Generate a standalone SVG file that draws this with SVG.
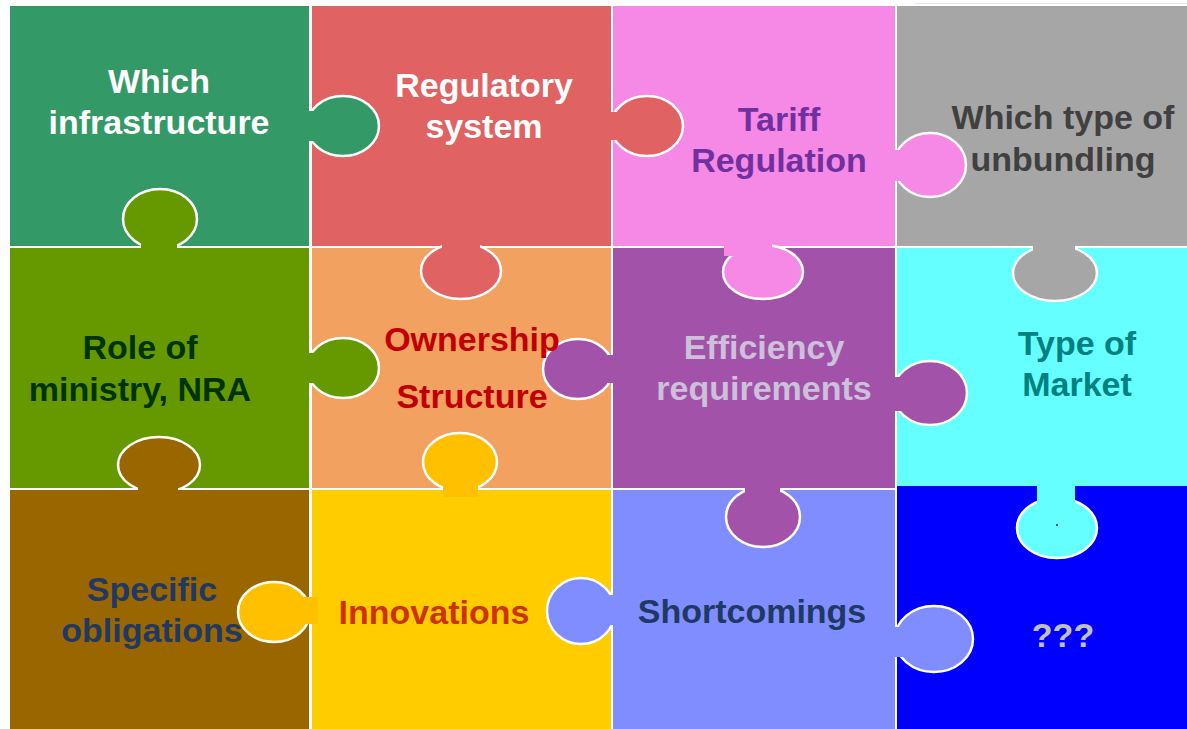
<svg xmlns="http://www.w3.org/2000/svg" width="1187" height="729" viewBox="0 0 1187 729">
<style>
.lbl{font-family:"Liberation Sans",Arial,sans-serif;font-weight:bold;font-size:34px;text-anchor:middle}
.tab ellipse{stroke:#fff;stroke-width:2.5}
.tab rect{stroke:none}
.c-infra{fill:#339966}.c-reg{fill:#E06262}.c-tariff{fill:#F589E5}.c-unb{fill:#A6A6A6}
.c-role{fill:#669900}.c-own{fill:#F2A160}.c-eff{fill:#A352A9}.c-mkt{fill:#66FFFF}
.c-spec{fill:#996600}.c-inn{fill:#FFCC00}.c-amber{fill:#FFC000}.c-short{fill:#808DFF}.c-unk{fill:#0000FF}
</style>
<rect x="0" y="0" width="1187" height="729" fill="#fff"/>
<line x1="915" y1="3.5" x2="1187" y2="3.5" stroke="#e4e4e4" stroke-width="1"/>

<g id="node-innovations">
  <rect class="c-inn" x="312" y="490" width="299" height="239"/>
  <g class="tab c-short"><ellipse cx="581" cy="611" rx="34" ry="33"/><rect x="604" y="595" width="14" height="30"/></g>
  <text class="lbl" x="434" y="624" fill="#CC3300">Innovations</text>
</g>
<g id="node-shortcomings">
  <rect class="c-short" x="613" y="490" width="282" height="239"/>
  <g class="tab c-eff"><ellipse cx="763" cy="517" rx="37" ry="30"/><rect x="745" y="482" width="35" height="18"/></g>
  <text class="lbl" x="752" y="623" fill="#1F3864">Shortcomings</text>
</g>
<g id="node-unknown">
  <rect class="c-unk" x="897" y="486" width="290" height="243"/>
  <g class="tab c-mkt"><ellipse cx="1057" cy="528" rx="40" ry="30"/><rect x="1037" y="480" width="38" height="25"/></g>
  <circle cx="1057" cy="525" r="1" fill="#0000FF"/>
  <g class="tab c-short"><ellipse cx="934" cy="639" rx="39" ry="33"/><rect x="889" y="627" width="16" height="30"/></g>
  <text class="lbl" x="1063" y="647" fill="#C0C0C0">???</text>
</g>
<g id="node-which-infrastructure">
  <rect class="c-infra" x="10" y="6" width="299" height="240"/>
  <g class="tab c-role"><ellipse cx="160" cy="219" rx="37" ry="30"/><rect x="141" y="234" width="36" height="18"/></g>
  <text class="lbl" x="159" y="93" fill="#fff">Which</text>
  <text class="lbl" x="159" y="134" fill="#fff">infrastructure</text>
</g>
<g id="node-regulatory-system">
  <rect class="c-reg" x="312" y="6" width="299" height="240"/>
  <g class="tab c-infra"><ellipse cx="343" cy="126" rx="36" ry="30"/><rect x="303" y="111" width="15" height="30"/></g>
  <text class="lbl" x="484" y="97" fill="#fff">Regulatory</text>
  <text class="lbl" x="484" y="138" fill="#fff">system</text>
</g>
<g id="node-tariff-regulation">
  <rect class="c-tariff" x="613" y="6" width="282" height="240"/>
  <g class="tab c-reg"><ellipse cx="647" cy="126" rx="36" ry="30"/><rect x="605" y="112" width="15" height="28"/></g>
  <text class="lbl" x="779" y="131" fill="#7030A0">Tariff</text>
  <text class="lbl" x="779" y="172" fill="#7030A0">Regulation</text>
</g>
<g id="node-unbundling">
  <rect class="c-unb" x="897" y="6" width="290" height="240"/>
  <g class="tab c-tariff"><ellipse cx="930" cy="165" rx="36" ry="32"/><rect x="889" y="150" width="14" height="31"/></g>
  <text class="lbl" x="1063" y="129" fill="#404040">Which type of</text>
  <text class="lbl" x="1063" y="171" fill="#404040">unbundling</text>
</g>
<g id="node-role-of-ministry">
  <rect class="c-role" x="10" y="248" width="299" height="240"/>
  <g class="tab c-spec"><ellipse cx="159" cy="465" rx="41" ry="28"/><rect x="138" y="480" width="40" height="16"/></g>
  <text class="lbl" x="140" y="359" fill="#003300">Role of</text>
  <text class="lbl" x="140" y="401" fill="#003300">ministry, NRA</text>
</g>
<g id="node-ownership-structure">
  <rect class="c-own" x="312" y="248" width="299" height="240"/>
  <g class="tab c-reg"><ellipse cx="461" cy="271" rx="40" ry="28"/><rect x="442" y="240" width="38" height="16"/></g>
  <g class="tab c-role"><ellipse cx="343" cy="368" rx="36" ry="30"/><rect x="303" y="353" width="15" height="30"/></g>
  <g class="tab c-eff"><ellipse cx="578" cy="369" rx="35" ry="30"/><rect x="604" y="355" width="14" height="28"/></g>
  <g class="tab c-amber"><ellipse cx="460" cy="462" rx="37" ry="29"/><rect x="443" y="478" width="35" height="19"/></g>
  <text class="lbl" x="472" y="351" fill="#C00000">Ownership</text>
  <text class="lbl" x="472" y="408" fill="#C00000">Structure</text>
</g>
<g id="node-efficiency-requirements">
  <rect class="c-eff" x="613" y="248" width="282" height="240"/>
  <g class="tab c-tariff"><ellipse cx="763" cy="272" rx="40" ry="27"/><rect x="724" y="240" width="48" height="16"/></g>
  <text class="lbl" x="764" y="359" fill="#CCC0DA">Efficiency</text>
  <text class="lbl" x="764" y="400" fill="#CCC0DA">requirements</text>
</g>
<g id="node-type-of-market">
  <rect class="c-mkt" x="897" y="248" width="290" height="238"/>
  <g class="tab c-unb"><ellipse cx="1055" cy="273" rx="42" ry="28"/><rect x="1033" y="240" width="42" height="16"/></g>
  <g class="tab c-eff"><ellipse cx="930" cy="393" rx="37" ry="32"/><rect x="889" y="377" width="14" height="34"/></g>
  <text class="lbl" x="1077" y="355" fill="#008080">Type of</text>
  <text class="lbl" x="1077" y="396" fill="#008080">Market</text>
</g>
<g id="node-specific-obligations">
  <rect class="c-spec" x="10" y="490" width="299" height="239"/>
  <g class="tab c-amber"><ellipse cx="274" cy="612" rx="36" ry="30"/><rect x="300" y="597" width="18" height="27"/></g>
  <text class="lbl" x="152" y="601" fill="#1F3864">Specific</text>
  <text class="lbl" x="152" y="642" fill="#1F3864">obligations</text>
</g>
<g id="connectors"></g>
</svg>
